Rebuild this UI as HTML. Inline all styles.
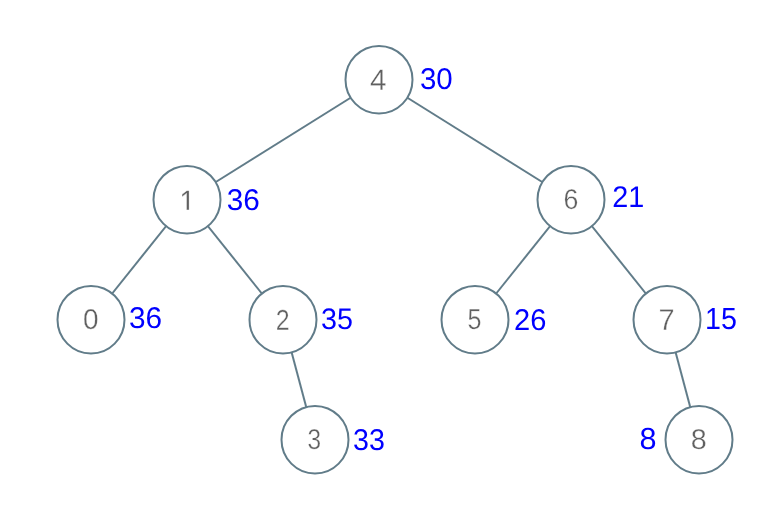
<!DOCTYPE html>
<html><head><meta charset="utf-8">
<style>
html,body{margin:0;padding:0;background:#fff;width:775px;height:529px;overflow:hidden}
svg{display:block;will-change:transform}
.e{stroke:#617c89;stroke-width:2;fill:none}
.n{stroke:#617c89;stroke-width:2;fill:#fff}
.d{font-family:"Liberation Sans",sans-serif;font-size:30px;fill:#606060;stroke:#fff;stroke-width:0.35}
.l{font-family:"Liberation Sans",sans-serif;font-size:30px;fill:#0000ff}
</style></head><body>
<svg width="775" height="529" viewBox="0 0 775 529">
<line class="e" x1="379" y1="80" x2="187" y2="200"/>
<line class="e" x1="379" y1="80" x2="571" y2="200"/>
<line class="e" x1="187" y1="200" x2="91" y2="320"/>
<line class="e" x1="187" y1="200" x2="283" y2="320"/>
<line class="e" x1="571" y1="200" x2="475" y2="320"/>
<line class="e" x1="571" y1="200" x2="667" y2="320"/>
<line class="e" x1="283" y1="320" x2="315" y2="440"/>
<line class="e" x1="667" y1="320" x2="699" y2="440"/>
<ellipse class="n" cx="379" cy="79.7" rx="33.5" ry="33.8"/>
<ellipse class="n" cx="187" cy="199.7" rx="33.5" ry="33.8"/>
<ellipse class="n" cx="571" cy="199.7" rx="33.5" ry="33.8"/>
<ellipse class="n" cx="91" cy="319.7" rx="33.5" ry="33.8"/>
<ellipse class="n" cx="283" cy="319.7" rx="33.5" ry="33.8"/>
<ellipse class="n" cx="475" cy="319.7" rx="33.5" ry="33.8"/>
<ellipse class="n" cx="667" cy="319.7" rx="33.5" ry="33.8"/>
<ellipse class="n" cx="315" cy="439.7" rx="33.5" ry="33.8"/>
<ellipse class="n" cx="699" cy="439.7" rx="33.5" ry="33.8"/>
<text class="d" transform="matrix(0.9860,0,0.001,0.9842,370.00,89.71)">4</text>
<clipPath id="c1"><rect x="160" y="170" width="60" height="39.80000000000001"/></clipPath><g clip-path="url(#c1)"><text class="d" transform="matrix(0.9660,0,0.001,1.0830,179.30,212.72)">1</text></g>
<text class="d" transform="matrix(0.8937,0,0.001,0.9538,563.51,209.04)">6</text>
<text class="d" transform="matrix(0.9328,0,0.001,0.9518,83.11,329.07)">0</text>
<text class="d" transform="matrix(0.8341,0,0.001,0.9651,275.68,329.71)">2</text>
<text class="d" transform="matrix(0.8375,0,0.001,0.9653,467.62,329.02)">5</text>
<text class="d" transform="matrix(0.9666,0,0.001,0.9905,658.48,329.72)">7</text>
<text class="d" transform="matrix(0.8155,0,0.001,0.9545,307.41,449.00)">3</text>
<text class="d" transform="matrix(0.9606,0,0.001,0.9539,690.82,449.01)">8</text>
<text class="l" transform="matrix(0.9838,0,0.001,1.0000,419.96,88.83)">30</text>
<text class="l" transform="matrix(0.9915,0,0.001,1.0005,226.73,210.35)">36</text>
<text class="l" transform="matrix(0.9607,0,0.001,0.9974,612.15,206.50)">21</text>
<text class="l" transform="matrix(0.9929,0,0.001,0.9987,128.95,328.33)">36</text>
<text class="l" transform="matrix(0.9576,0,0.001,0.9887,321.10,329.35)">35</text>
<text class="l" transform="matrix(0.9693,0,0.001,1.0018,514.12,330.41)">26</text>
<text class="l" transform="matrix(0.9566,0,0.001,1.0168,705.10,329.34)">15</text>
<text class="l" transform="matrix(0.9563,0,0.001,1.0018,353.12,450.37)">33</text>
<text class="l" transform="matrix(1.0208,0,0.001,1.0141,639.50,448.87)">8</text>
</svg>
</body></html>
